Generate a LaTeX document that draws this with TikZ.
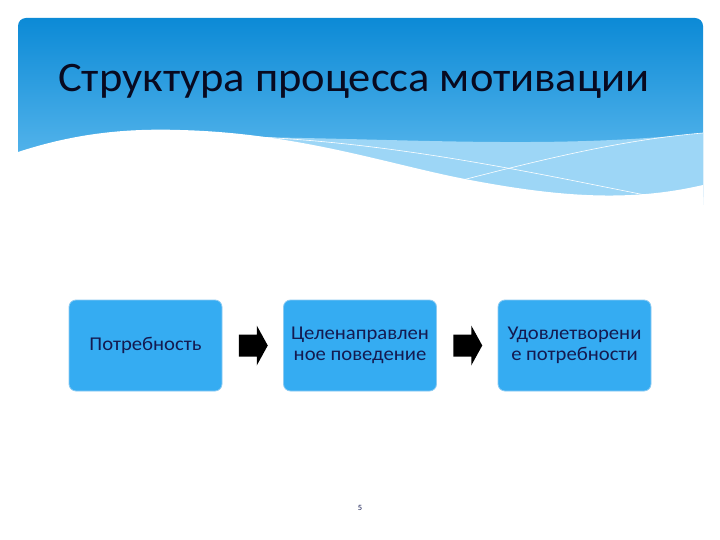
\documentclass[tikz,border=0pt]{standalone}
\usepackage{fontspec}
\setmainfont{Carlito}[FakeStretch=1.06]
\usetikzlibrary{calc}
\definecolor{hdtop}{HTML}{0C8AD6}
\definecolor{hdbot}{HTML}{6CC2F2}
\definecolor{band}{HTML}{9DD6F6}
\definecolor{boxfill}{HTML}{35ACF2}
\definecolor{boxline}{HTML}{8CCBF2}
\definecolor{navy}{HTML}{141A50}
\tikzset{
  stagebox/.style={draw=boxline, line width=0.8pt, fill=boxfill, rounded corners=7pt,
    minimum width=153pt, minimum height=91pt, inner sep=2pt, align=center,
    font=\fontsize{19.5}{20.5}\selectfont, text=navy},
  blockarrow/.style={fill=black}
}
\begin{document}
\begin{tikzpicture}[x=1pt,y=-1pt]
\useasboundingbox (0,0) rectangle (720,540);
\fill[white] (0,0) rectangle (720,540);
% header
\shade[top color=hdtop, bottom color=hdbot, rounded corners=8pt] (18,18) rectangle (703,205);
% light band
\fill[band] (230,137) .. controls (400,138) and (550,150) .. (703,133) -- (703,205) -- (18,205) -- cycle;
% white wave
\fill[white] (18,152) .. controls (70,135) and (120,128) .. (180,130)
  .. controls (300,133) and (390,165) .. (470,180)
  .. controls (560,197) and (630,202) .. (703,185) -- (703,215) -- (18,215) -- cycle;
% thin white lines
\draw[white, line width=0.6pt] (230,136) .. controls (380,140) and (520,170) .. (645,195);
\draw[white, line width=0.6pt] (447,184) .. controls (540,160) and (620,140) .. (703,133);
% title
\node[anchor=base west, inner sep=0pt, font=\fontsize{42}{46}\selectfont, text=navy!40!black] (title) at (58,92) {Структура процесса мотивации};
% boxes
\node[stagebox] (b1) at (145.5,345.5) {Потребность};
\node[stagebox] (b2) at (360,345.5) {Целенаправлен\\ное поведение};
\node[stagebox] (b3) at (574.5,345.5) {Удовлетворени\\е потребности};
% arrows
\coordinate (a1) at ($(b1.east)!0.5!(b2.west)$);
\coordinate (a2) at ($(b2.east)!0.5!(b3.west)$);
\foreach \a in {a1,a2}{
  \fill[blockarrow] ([shift={(-14,-11)}]\a) -- ([shift={(4,-11)}]\a) -- ([shift={(4,-20)}]\a)
    -- ([shift={(15,0)}]\a) -- ([shift={(4,20)}]\a) -- ([shift={(4,11)}]\a) -- ([shift={(-14,11)}]\a) -- cycle;
}
\node[font=\fontsize{8}{9}\selectfont, text=navy] (pg) at (360,508) {5};
\end{tikzpicture}
\end{document}
